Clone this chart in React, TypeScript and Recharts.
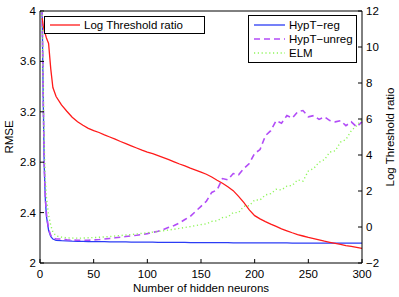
import { Line, LineChart, ReferenceLine, XAxis, YAxis } from "recharts";

const FONT = '"Liberation Sans", Arial, Helvetica, sans-serif';
const FS = 11.5;

// x grid (number of hidden neurons)
const neurons = [
  2, 3, 4, 5, 6, 8, 10, 12, 15,
  20, 25, 30, 35, 40, 45, 50, 55, 60, 65, 70, 75, 80, 85, 90, 95, 100,
  105, 110, 115, 120, 125, 130, 135, 140, 145, 150,
  155, 160, 165, 170, 175, 180, 185, 190, 195, 200,
  205, 210, 215, 220, 225, 230, 235, 240, 245, 250,
  255, 260, 265, 270, 275, 280, 285, 290, 295, 300,
];

const hyptReg = [
  4.0, 3.3, 2.75, 2.5, 2.37, 2.26, 2.21, 2.19, 2.18,
  2.177, 2.175, 2.173, 2.172, 2.171, 2.17, 2.17, 2.169, 2.169, 2.168, 2.168, 2.167, 2.167, 2.166, 2.166, 2.166, 2.165,
  2.165, 2.164, 2.164, 2.164, 2.163, 2.163, 2.163, 2.162, 2.162, 2.162,
  2.162, 2.161, 2.161, 2.161, 2.161, 2.16, 2.16, 2.16, 2.16, 2.16,
  2.159, 2.159, 2.159, 2.159, 2.159, 2.159, 2.158, 2.158, 2.158, 2.158,
  2.158, 2.158, 2.158, 2.157, 2.157, 2.157, 2.157, 2.157, 2.157, 2.157,
];

const hyptUnreg = [
  4.0, 3.32, 2.77, 2.52, 2.39, 2.27, 2.22, 2.2, 2.19,
  2.19, 2.185, 2.182, 2.18, 2.18, 2.181, 2.183, 2.186, 2.19, 2.195, 2.2, 2.205, 2.21, 2.215, 2.22, 2.226, 2.233,
  2.243, 2.252, 2.266, 2.283, 2.297, 2.318, 2.345, 2.37, 2.41, 2.45,
  2.49, 2.56, 2.58, 2.67, 2.66, 2.71, 2.7, 2.75, 2.79, 2.87,
  2.9, 3.01, 3.05, 3.13, 3.11, 3.17, 3.15, 3.2, 3.21, 3.16,
  3.17, 3.14, 3.16, 3.13, 3.12, 3.13, 3.09, 3.12, 3.08, 3.12,
];

const elm = [
  4.0, 3.4, 2.92, 2.66, 2.52, 2.38, 2.3, 2.245, 2.215,
  2.205, 2.2, 2.198, 2.197, 2.198, 2.2, 2.202, 2.204, 2.207, 2.21, 2.214, 2.218, 2.222, 2.226, 2.23, 2.235, 2.24,
  2.245, 2.25, 2.256, 2.262, 2.268, 2.275, 2.282, 2.289, 2.297, 2.305,
  2.31, 2.33, 2.335, 2.36, 2.365, 2.4, 2.4, 2.45, 2.455, 2.5,
  2.5, 2.54, 2.55, 2.585, 2.58, 2.61, 2.615, 2.66, 2.65, 2.73,
  2.75, 2.8, 2.82, 2.88, 2.89, 2.96, 2.98, 3.05, 3.09, 3.14,
];

const logThreshold = [
  11.6, 11.2, 10.9, 10.7, 10.5, 10.2, 8.8, 7.75, 7.25,
  6.78, 6.43, 6.1, 5.85, 5.65, 5.48, 5.35, 5.25, 5.12, 5.0, 4.88, 4.75, 4.63, 4.51, 4.39, 4.27, 4.16,
  4.07, 3.96, 3.85, 3.74, 3.62, 3.5, 3.39, 3.27, 3.16, 3.05,
  2.93, 2.78, 2.6, 2.43, 2.24, 2.02, 1.7, 1.35, 0.95, 0.63,
  0.45, 0.3, 0.16, 0.03, -0.1, -0.21, -0.32, -0.42, -0.5, -0.58,
  -0.65, -0.72, -0.79, -0.85, -0.91, -0.97, -1.03, -1.08, -1.13, -1.19,
];

const xTicks = [0, 50, 100, 150, 200, 250, 300];
const leftTicks = [2, 2.4, 2.8, 3.2, 3.6, 4];
const rightTicks = [-2, 0, 2, 4, 6, 8, 10, 12];

const rows = neurons.map((n, i) => ({
  n,
  reg: hyptReg[i],
  unreg: hyptUnreg[i],
  elm: elm[i],
  ratio: logThreshold[i],
}));

const series = [
  { key: "reg", name: "HypT\u2212reg", color: "#2b3cf5", dash: undefined, width: 1.3, axis: "left" },
  { key: "unreg", name: "HypT\u2212unreg", color: "#b24cf7", dash: "6 4", width: 1.6, axis: "left" },
  { key: "elm", name: "ELM", color: "#90f55c", dash: "1.2 2.6", width: 1.4, axis: "left" },
  { key: "ratio", name: "Log Threshold ratio", color: "#ff1a1a", dash: undefined, width: 1.3, axis: "right" },
];

const fmt = (v: number) => (v < 0 ? "\u2212" + Math.abs(v) : String(v));

const MARGIN = 4;
const TICK = 4;

function LeftTick(props: any) {
  const { x, y, payload } = props;
  const ax = x + MARGIN;
  return (
    <g>
      <line x1={ax} x2={ax + TICK} y1={y} y2={y} stroke="#000" />
      <text x={x} y={y} dy="0.355em" textAnchor="end" fontSize={FS} fontFamily={FONT} fill="#000">
        {fmt(payload.value)}
      </text>
    </g>
  );
}

function RightTick(props: any) {
  const { x, y, payload } = props;
  const ax = x - MARGIN;
  return (
    <g>
      <line x1={ax - TICK} x2={ax} y1={y} y2={y} stroke="#000" />
      <text x={x} y={y} dy="0.355em" textAnchor="start" fontSize={FS} fontFamily={FONT} fill="#000">
        {fmt(payload.value)}
      </text>
    </g>
  );
}

function BottomTick(props: any) {
  const { x, y, payload } = props;
  const ay = y - 7;
  return (
    <g>
      <line x1={x} x2={x} y1={ay} y2={ay - TICK} stroke="#000" />
      <text x={x} y={y} dy="0.71em" textAnchor="middle" fontSize={FS} fontFamily={FONT} fill="#000">
        {fmt(payload.value)}
      </text>
    </g>
  );
}

const labelStyle = { fontSize: FS, fontFamily: FONT, fill: "#000", textAnchor: "middle" as const };

export default function App() {
  const red = series[3];
  const rightLegend = series.slice(0, 3);
  return (
    <div style={{ position: "absolute", left: 0, top: 0, width: 399, height: 297, background: "#fff" }}>
      <LineChart width={399} height={297} data={rows} margin={{ top: 11, right: 0, bottom: 0, left: 0 }}>
        <XAxis
          dataKey="n"
          type="number"
          domain={[0, 300]}
          ticks={xTicks}
          height={34}
          tickSize={0}
          tickMargin={7}
          tickLine={false}
          tick={<BottomTick />}
          axisLine={{ stroke: "#000" }}
          label={{ value: "Number of hidden neurons", position: "insideBottom", offset: 5, style: labelStyle }}
        />
        <YAxis
          yAxisId="left"
          domain={[2, 4]}
          ticks={leftTicks}
          width={40}
          allowDataOverflow
          tickSize={0}
          tickMargin={MARGIN}
          tickLine={false}
          tick={<LeftTick />}
          axisLine={{ stroke: "#000" }}
          label={{ value: "RMSE", angle: -90, position: "insideLeft", offset: 9, style: labelStyle }}
        />
        <YAxis
          yAxisId="right"
          orientation="right"
          domain={[-2, 12]}
          ticks={rightTicks}
          width={37}
          allowDataOverflow
          tickSize={0}
          tickMargin={MARGIN}
          tickLine={false}
          tick={<RightTick />}
          axisLine={{ stroke: "#000" }}
          label={{ value: "Log Threshold ratio", angle: -90, position: "insideRight", offset: 9, style: labelStyle }}
        />
        <ReferenceLine yAxisId="left" y={4} stroke="#000" />
        {series.map((s) => (
          <Line
            key={s.key}
            yAxisId={s.axis}
            dataKey={s.key}
            name={s.name}
            type="linear"
            stroke={s.color}
            strokeWidth={s.width}
            strokeDasharray={s.dash}
            dot={false}
            activeDot={false}
            isAnimationActive={false}
          />
        ))}
      </LineChart>
      <svg width={399} height={297} style={{ position: "absolute", left: 0, top: 0, pointerEvents: "none" }}>
        <rect x={44.5} y={16.5} width={160} height={17} fill="#fff" stroke="#000" />
        <line x1={50} x2={80} y1={25} y2={25} stroke={red.color} strokeWidth={red.width} />
        <text x={84} y={25} dy="0.355em" fontSize={FS} fontFamily={FONT} fill="#000">
          {red.name}
        </text>
        <rect x={248.5} y={15.5} width={108} height={47} fill="#fff" stroke="#000" />
        {rightLegend.map((s, i) => (
          <g key={s.key}>
            <line
              x1={254}
              x2={285}
              y1={25 + i * 14}
              y2={25 + i * 14}
              stroke={s.color}
              strokeWidth={s.width}
              strokeDasharray={s.dash}
            />
            <text x={289} y={25 + i * 14} dy="0.355em" fontSize={FS} fontFamily={FONT} fill="#000">
              {s.name}
            </text>
          </g>
        ))}
      </svg>
    </div>
  );
}
